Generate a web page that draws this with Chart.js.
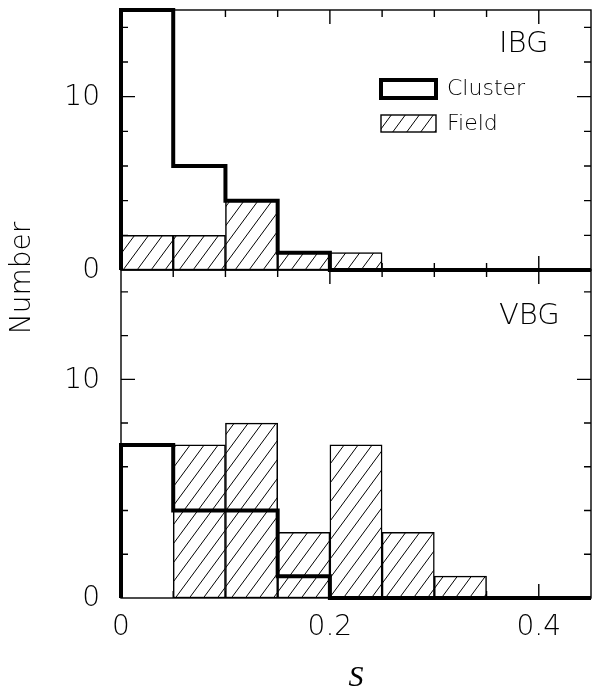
<!DOCTYPE html>
<html>
<head>
<meta charset="utf-8">
<script src="https://cdn.jsdelivr.net/npm/chart.js@4.4.0/dist/chart.umd.min.js"></script>
<style>
body{margin:0;background:#fff;}
canvas{display:block;}
</style>
</head>
<body>
<canvas id="histChart" width="598" height="690"></canvas>
<script>

// bin edges in S, counts per bin
const binEdges=[0,0.05,0.1,0.15,0.2,0.25,0.3,0.35,0.4,0.45];
const ibgCluster=[15,6,4,1,0,0,0,0,0];
const ibgField=[2,2,4,1,1,0,0,0,0];
const vbgCluster=[7,4,4,1,0,0,0,0,0];
const vbgField=[0,7,8,3,7,3,1,0,0];

const xTickValues=[0,0.2,0.4];
const xTickLabels=["0","0.2","0.4"];
const yTickValues=[0,10];
const yTickLabels=["0","10"];
const panelNames=["IBG","VBG"];
const legendLabels=["Cluster","Field"];

const canvas=document.getElementById("histChart");
const ctx=canvas.getContext("2d");

function makeHatch(){
    const w=14,h=19;
    const tile=document.createElement("canvas");
    tile.width=w;tile.height=h;
    const g=tile.getContext("2d");
    g.fillStyle="#fff";
    g.fillRect(0,0,w,h);
    g.strokeStyle="#000";
    g.lineWidth=1;
    for(let k=-1;k<=1;k++){
        g.beginPath();
        g.moveTo(k*w,h);
        g.lineTo(k*w+w,0);
        g.stroke();
    }
    return ctx.createPattern(tile,"repeat");
}
const hatch=makeHatch();

// outline of a histogram, drawn with stepped:true
function stepPoints(counts){
    const pts=[{x:binEdges[0],y:0}];
    counts.forEach((c,i)=>pts.push({x:binEdges[i],y:c}));
    pts.push({x:binEdges[binEdges.length-1],y:0});
    return pts;
}

function barPoints(counts){
    return counts.map((c,i)=>({x:(binEdges[i]+binEdges[i+1])/2,y:c})).filter(p=>p.y>0);
}

function clusterSet(counts,axis){
    return {
        type:"line",
        label:legendLabels[0],
        data:stepPoints(counts),
        yAxisID:axis,
        stepped:true,
        borderColor:"#000",
        borderWidth:4,
        borderJoinStyle:"miter",
        pointRadius:0,
        fill:false,
        clip:false
    };
}

function fieldSet(counts,axis){
    return {
        type:"bar",
        label:legendLabels[1],
        data:barPoints(counts),
        yAxisID:axis,
        backgroundColor:hatch,
        borderColor:"#000",
        borderWidth:1.5,
        borderSkipped:false,
        grouped:false,
        barPercentage:1,
        categoryPercentage:1
    };
}

const tickLen=7,majorLen=14;
const thinFont='"DejaVu Sans"';

const frame={
    id:"frame",
    beforeDatasetsDraw(chart){
        const c=chart.ctx,x=chart.scales.x;
        c.save();
        c.strokeStyle="#000";
        c.lineWidth=1.4;
        ["yTop","yBot"].forEach(id=>{
            const y=chart.scales[id];
            c.strokeRect(x.left,y.top,x.right-x.left,y.bottom-y.top);
            c.beginPath();
            for(let v=2;v<15;v+=2){
                const p=y.getPixelForValue(v);
                const l=v===10?majorLen:tickLen;
                c.moveTo(x.left,p);c.lineTo(x.left+l,p);
                c.moveTo(x.right,p);c.lineTo(x.right-l,p);
            }
            for(let k=1;k<9;k++){
                const v=k*0.05;
                const p=x.getPixelForValue(v);
                const l=(k%4===0)?majorLen:tickLen;
                c.moveTo(p,y.top);c.lineTo(p,y.top+l);
                c.moveTo(p,y.bottom);c.lineTo(p,y.bottom-l);
            }
            c.stroke();
        });
        c.restore();
    },
    afterDraw(chart){
        const c=chart.ctx,x=chart.scales.x;
        const yTop=chart.scales.yTop,yBot=chart.scales.yBot;
        c.save();
        c.fillStyle="#000";
        c.font="200 28px "+thinFont;
        c.textAlign="right";
        c.textBaseline="middle";
        [yTop,yBot].forEach(y=>{
            yTickValues.forEach((v,i)=>{
                c.fillText(yTickLabels[i],x.left-21,y.getPixelForValue(v)+1);
            });
        });
        c.textAlign="center";
        xTickValues.forEach((v,i)=>{
            c.fillText(xTickLabels[i],x.getPixelForValue(v),yBot.bottom+30);
        });

        // axis titles
        c.save();
        c.translate(23,yTop.bottom+8);
        c.rotate(-Math.PI/2);
        c.fillText("Number",0,0);
        c.restore();
        c.font='italic 30px "Liberation Serif"';
        c.fillText("S",(x.left+x.right)/2,yBot.bottom+80);

        // panel names
        c.font="200 29px "+thinFont;
        c.textAlign="left";
        c.fillText(panelNames[0],499,yTop.top+34);
        c.fillText(panelNames[1],499,yBot.top+46);

        // legend
        c.lineWidth=4;
        c.strokeRect(381,80,55,18);
        c.fillStyle=hatch;
        c.fillRect(381,115,55,17);
        c.lineWidth=1.4;
        c.strokeRect(381,115,55,17);
        c.fillStyle="#000";
        c.font="200 22px "+thinFont;
        c.fillText(legendLabels[0],447,89);
        c.fillText(legendLabels[1],447,124);
        c.restore();
    }
};

new Chart(canvas,{
    type:"bar",
    data:{
        datasets:[
            clusterSet(ibgCluster,"yTop"),
            clusterSet(vbgCluster,"yBot"),
            fieldSet(ibgField,"yTop"),
            fieldSet(vbgField,"yBot")
        ]
    },
    options:{
        responsive:false,
        animation:false,
        layout:{padding:{left:121,right:7,top:10,bottom:92}},
        plugins:{legend:{display:false},tooltip:{enabled:false}},
        scales:{
            x:{type:"linear",min:0,max:0.45,offset:false,display:false,ticks:{stepSize:0.05}},
            // left boxes are stacked last-first, so the lower panel is listed first
            yBot:{type:"linear",position:"left",stack:"panels",stackWeight:328,min:0,max:15,display:false},
            yTop:{type:"linear",position:"left",stack:"panels",stackWeight:260,min:0,max:15,display:false}
        }
    },
    plugins:[frame]
});

</script>
</body>
</html>
